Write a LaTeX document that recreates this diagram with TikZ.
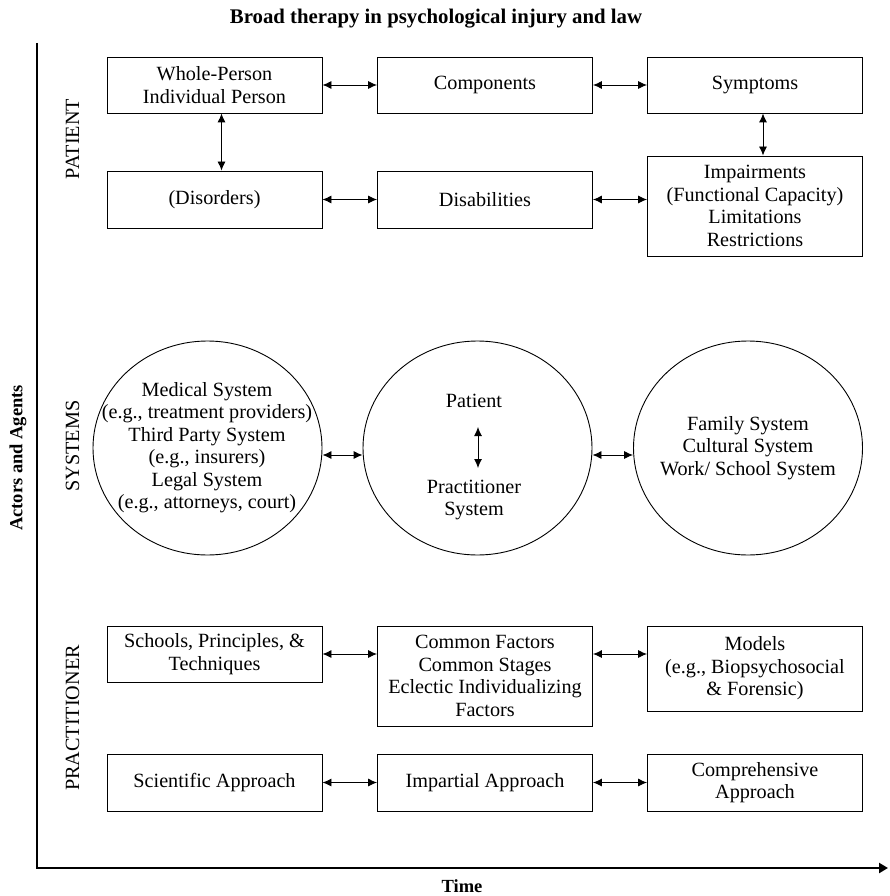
\documentclass[tikz,border=0pt]{standalone}
\usepackage{fontspec}
\setmainfont{Liberation Serif}
\usetikzlibrary{arrows.meta,shapes.geometric}
\begin{document}
\begin{tikzpicture}[x=1pt,y=-1pt,
  box/.style={draw, line width=0.9pt, minimum width=215pt, align=center, font=\fontsize{20.2}{22.5}\selectfont, inner sep=0pt},
  oval/.style={draw, ellipse, line width=0.9pt, minimum width=229pt, minimum height=214pt, inner sep=0pt},
  txt/.style={align=center, font=\fontsize{20.2}{22.5}\selectfont, inner sep=0pt},
  link/.style={{Latex[length=9pt,width=8pt]}-{Latex[length=9pt,width=8pt]}, line width=0.9pt},
  side/.style={rotate=90, font=\fontsize{20.2}{24}\selectfont, inner sep=0pt},
  axislabel/.style={font=\bfseries\fontsize{18.5}{22}\selectfont, inner sep=0pt},
  axisline/.style={line width=2.7pt, line join=miter, -{Triangle[length=9pt,width=10pt]}}
]
\useasboundingbox (0,0) rectangle (889,896);

% title
\node[font=\bfseries\fontsize{20.8}{24}\selectfont, anchor=base, inner sep=0pt] (title) at (436,23.3) {Broad therapy in psychological injury and law};

% axes
\coordinate (axtop) at (37,43);
\coordinate (axorig) at (37,868);
\coordinate (axend) at (888,868);
\draw[axisline] (axtop) -- (axorig) -- (axend);
\node[axislabel, rotate=90] (actors) at (18,458) {Actors and Agents};
\node[axislabel] (time) at (462,886) {Time};

% side labels
\node[side] (lpatient) at (72.5,139) {PATIENT};
\node[side] (lsystems) at (72.5,446) {SYSTEMS};
\node[side] (lpract) at (72.5,718) {PRACTITIONER};

% patient rows
\node[box, minimum height=56pt] (b11) at (214.5,85) {Whole-Person\\Individual Person};
\node[box, minimum height=56pt] (b12) at (485,85) {Components};
\node[box, minimum height=56pt] (b13) at (755,85) {Symptoms};
\node[box, minimum height=57pt] (b21) at (214.5,199.5) {(Disorders)};
\node[box, minimum height=57pt] (b22) at (485,199.5) {Disabilities};
\node[box, minimum height=100pt] (b23) at (755,206) {Impairments\\(Functional Capacity)\\Limitations\\Restrictions};

\draw[link] (b11.east) -- (b12.west);
\draw[link] (b12.east) -- (b13.west);
\draw[link] (b21.east) -- (b22.west);
\draw[link] (b22.east) -- (b22.east -| b23.west);
\draw[link] ([xshift=7pt]b11.south) -- ([xshift=7pt]b21.north);
\draw[link] ([xshift=8pt]b13.south) -- ([xshift=8pt]b23.north);

% systems
\node[oval] (c1) at (207.5,448) {};
\node[oval] (c2) at (477.5,448) {};
\node[oval] (c3) at (748,448) {};
\node[txt] (t1) at (207,447.5) {Medical System\\(e.g., treatment providers)\\Third Party System\\(e.g., insurers)\\Legal System\\(e.g., attorneys, court)};
\node[txt] (tpat) at (474,401) {Patient};
\node[txt] (tprac) at (474,500) {Practitioner\\System};
\node[txt] (t3) at (748,448) {Family System\\Cultural System\\Work/ School System};
\coordinate (pa) at (478,427);
\coordinate (pb) at (478,468);
\draw[link] (pa) -- (pb);
\draw[link] ([yshift=-7pt]c1.east) -- ([yshift=-7pt]c2.west);
\draw[link] ([yshift=-7pt]c2.east) -- ([yshift=-7pt]c3.west);

% practitioner rows
\node[box, minimum height=56pt] (b31) at (214.5,654) {Schools, Principles, \&\\Techniques};
\node[box, minimum height=100pt] (b32) at (485,676) {Common Factors\\Common Stages\\Eclectic Individualizing\\Factors};
\node[box, minimum height=85pt] (b33) at (755,668.5) {Models\\(e.g., Biopsychosocial\\\& Forensic)};
\node[box, minimum height=57pt] (b41) at (214.5,782.5) {Scientific Approach};
\node[box, minimum height=57pt] (b42) at (485,782.5) {Impartial Approach};
\node[box, minimum height=57pt] (b43) at (755,782.5) {Comprehensive\\Approach};

\draw[link] (b31.east) -- (b31.east -| b32.west);
\draw[link] (b31.east -| b32.east) -- (b31.east -| b33.west);
\draw[link] (b41.east) -- (b42.west);
\draw[link] (b42.east) -- (b43.west);
\end{tikzpicture}
\end{document}
